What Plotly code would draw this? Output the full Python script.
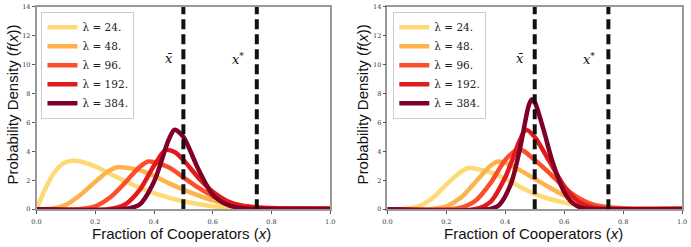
import plotly.graph_objects as go

# ---------------- data ----------------
lambdas = ["24", "48", "96", "192", "384"]
colors = ["#fed976", "#feb24c", "#fc4e2a", "#e31a1c", "#800026"]

# left panel
L24_x = [0.0, 0.025, 0.05, 0.075, 0.1, 0.125, 0.15, 0.2, 0.25, 0.3, 0.35, 0.4, 0.45, 0.5, 0.55, 0.6, 0.65, 0.7, 0.75, 0.85, 1.0]
L24_y = [0.0, 1.2, 2.2, 2.9, 3.25, 3.35, 3.3, 2.95, 2.45, 1.95, 1.5, 1.1, 0.8, 0.55, 0.35, 0.2, 0.1, 0.04, 0.02, 0.01, 0.01]
L48_x = [0.0, 0.05, 0.1, 0.15, 0.2, 0.25, 0.275, 0.3, 0.35, 0.4, 0.45, 0.5, 0.55, 0.6, 0.65, 0.7, 0.75, 0.8, 0.9, 1.0]
L48_y = [0.0, 0.02, 0.3, 1.0, 1.9, 2.7, 2.9, 2.88, 2.7, 2.3, 1.8, 1.35, 0.95, 0.6, 0.35, 0.18, 0.09, 0.05, 0.03, 0.02]
L96_x = [0.0, 0.15, 0.2, 0.25, 0.3, 0.35, 0.38, 0.4, 0.45, 0.5, 0.55, 0.6, 0.65, 0.7, 0.75, 0.8, 0.9, 1.0]
L96_y = [0.0, 0.01, 0.2, 0.8, 1.8, 2.9, 3.3, 3.25, 2.9, 2.2, 1.5, 0.9, 0.5, 0.25, 0.13, 0.07, 0.04, 0.03]
L192_x = [0.0, 0.25, 0.3, 0.35, 0.4, 0.44, 0.47, 0.5, 0.55, 0.6, 0.65, 0.7, 0.75, 0.8, 0.9, 1.0]
L192_y = [0.0, 0.01, 0.3, 1.3, 3.0, 4.1, 3.95, 3.4, 2.2, 1.2, 0.55, 0.22, 0.1, 0.06, 0.04, 0.03]
L384_x = [0.0, 0.3, 0.35, 0.4, 0.45, 0.47, 0.5, 0.55, 0.6, 0.65, 0.7, 0.75, 0.85, 1.0]
L384_y = [0.0, 0.01, 0.3, 1.9, 4.8, 5.5, 5.0, 2.8, 1.0, 0.3, 0.06, 0.02, 0.01, 0.01]

# right panel
R24_x = [0.0, 0.05, 0.1, 0.15, 0.2, 0.25, 0.275, 0.3, 0.35, 0.4, 0.45, 0.5, 0.55, 0.6, 0.65, 0.7, 0.75, 0.8, 1.0]
R24_y = [0.0, 0.01, 0.15, 0.7, 1.7, 2.6, 2.85, 2.8, 2.55, 2.1, 1.55, 1.05, 0.7, 0.45, 0.25, 0.12, 0.05, 0.02, 0.01]
R48_x = [0.0, 0.15, 0.2, 0.25, 0.3, 0.35, 0.375, 0.4, 0.45, 0.5, 0.55, 0.6, 0.65, 0.7, 0.75, 0.8, 0.9, 1.0]
R48_y = [0.0, 0.01, 0.2, 0.8, 1.9, 3.0, 3.3, 3.2, 2.7, 2.1, 1.5, 0.95, 0.55, 0.3, 0.15, 0.07, 0.03, 0.02]
R96_x = [0.0, 0.22, 0.25, 0.3, 0.35, 0.4, 0.44, 0.46, 0.5, 0.55, 0.6, 0.65, 0.7, 0.75, 0.8, 0.9, 1.0]
R96_y = [0.0, 0.01, 0.1, 0.6, 1.8, 3.4, 4.1, 4.05, 3.4, 2.5, 1.5, 0.75, 0.3, 0.12, 0.05, 0.03, 0.02]
R192_x = [0.0, 0.3, 0.35, 0.4, 0.45, 0.47, 0.5, 0.55, 0.6, 0.65, 0.7, 0.75, 1.0]
R192_y = [0.0, 0.01, 0.5, 2.2, 4.8, 5.5, 5.0, 3.3, 1.6, 0.5, 0.1, 0.02, 0.01]
R384_x = [0.0, 0.35, 0.38, 0.42, 0.45, 0.48, 0.49, 0.5, 0.53, 0.56, 0.6, 0.63, 0.66, 0.7, 1.0]
R384_y = [0.0, 0.01, 0.3, 1.8, 4.2, 7.2, 7.6, 7.4, 5.5, 3.3, 1.2, 0.4, 0.08, 0.01, 0.01]

x_bar = 0.5
x_star = 0.75
x_ticks = [0.0, 0.2, 0.4, 0.6, 0.8, 1.0]
y_ticks = [0, 2, 4, 6, 8, 10, 12, 14]

left = [(L24_x, L24_y), (L48_x, L48_y), (L96_x, L96_y), (L192_x, L192_y), (L384_x, L384_y)]
right = [(R24_x, R24_y), (R48_x, R48_y), (R96_x, R96_y), (R192_x, R192_y), (R384_x, R384_y)]

# ---------------- figure ----------------
fig = go.Figure()
W, H = 691, 247

panels = [
    dict(series=left, xa="x", ya="y", legend="legend"),
    dict(series=right, xa="x2", ya="y2", legend="legend2"),
]

for p in panels:
    for (xs, ys), lam, col in zip(p["series"], lambdas, colors):
        fig.add_trace(go.Scatter(
            x=xs, y=ys, mode="lines", xaxis=p["xa"], yaxis=p["ya"],
            line=dict(color=col, width=4.5, shape="spline", smoothing=0.8),
            name=f"λ = {lam}.", legend=p["legend"],
        ))
    for xv in (x_bar, x_star):
        fig.add_trace(go.Scatter(
            x=[xv, xv], y=[0, 14], mode="lines", xaxis=p["xa"], yaxis=p["ya"],
            line=dict(color="#111111", width=4, dash="10px,5px"),
            showlegend=False, hoverinfo="skip",
        ))

ydom = [35 / H, 1 - 3 / H]
ax_common = dict(
    showgrid=False, zeroline=False, showline=True, linecolor="#999999",
    linewidth=1.5, mirror=True, ticks="outside", ticklen=3, tickcolor="#555555",
    tickfont=dict(family="DejaVu Serif", size=6.5, color="#333333"),
    ticklabeloverflow="allow",
)
fig.update_layout(
    width=W, height=H,
    margin=dict(l=0, r=0, t=0, b=0),
    paper_bgcolor="white", plot_bgcolor="white",
    xaxis=dict(domain=[32 / W, 330 / W], range=[0, 1], tickvals=x_ticks,
               ticktext=[f"{v:.1f}" for v in x_ticks], anchor="y",
               ticklabelstandoff=2, **ax_common),
    yaxis=dict(domain=ydom, range=[0, 14], tickvals=y_ticks, anchor="x", **ax_common),
    xaxis2=dict(domain=[388 / W, 687 / W], range=[0, 1], tickvals=x_ticks,
                ticktext=[f"{v:.1f}" for v in x_ticks], anchor="y2",
                ticklabelstandoff=2, **ax_common),
    yaxis2=dict(domain=ydom, range=[0, 14], tickvals=y_ticks, anchor="x2", **ax_common),
    legend=dict(x=37 / W, y=1 - 8 / H, xanchor="left", yanchor="top",
                bgcolor="white", bordercolor="#cccccc", borderwidth=1,
                font=dict(family="DejaVu Serif", size=10.5, color="#222222"),
                itemwidth=30, tracegroupgap=0),
    legend2=dict(x=394 / W, y=1 - 8 / H, xanchor="left", yanchor="top",
                 bgcolor="white", bordercolor="#cccccc", borderwidth=1,
                 font=dict(family="DejaVu Serif", size=10.5, color="#222222"),
                 itemwidth=30, tracegroupgap=0),
    showlegend=True,
)

anns = []
for xa, ya, cx, ty in (("x", "y", 179, 8), ("x2", "y2", 536, 363)):
    anns.append(dict(xref="paper", yref="paper", x=cx / W, y=1 - 237 / H,
                     text="Fraction of Cooperators (<i>x</i>)", showarrow=False,
                     font=dict(family="Liberation Sans", size=15, color="#111111"),
                     xanchor="center", yanchor="middle"))
    anns.append(dict(xref="paper", yref="paper", x=ty / W, y=(1 - 104 / H),
                     text="Probability Density (<i>f</i>(<i>x</i>))", showarrow=False,
                     textangle=-90,
                     font=dict(family="Liberation Sans", size=15, color="#111111"),
                     xanchor="center", yanchor="middle"))
    anns.append(dict(xref=xa, yref=ya, x=0.45, y=10.4, text="<i>x̄</i>",
                     showarrow=False, font=dict(family="DejaVu Serif", size=13, color="#111111")))
    anns.append(dict(xref=xa, yref=ya, x=0.685, y=10.4, text="<i>x</i><sup>*</sup>",
                     showarrow=False, font=dict(family="DejaVu Serif", size=13, color="#111111")))
fig.update_layout(annotations=anns)

fig.write_html("out.html")
